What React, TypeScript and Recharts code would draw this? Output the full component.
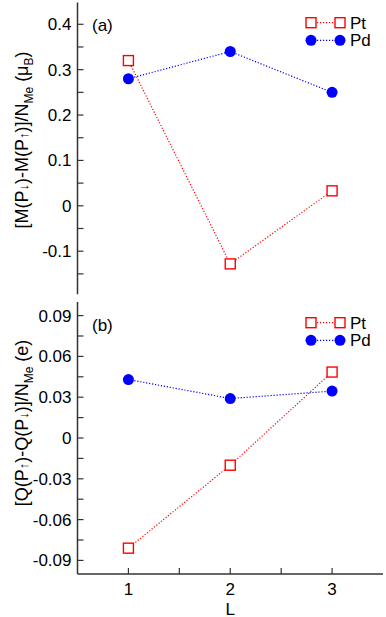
import { LineChart, Line, XAxis, YAxis } from 'recharts';

// layer index L
const layers = [1, 2, 3];

// panel (a): magnetic moment difference per Me atom (mu_B)
const ptMag = [0.32, -0.128, 0.033];
const pdMag = [0.28, 0.34, 0.25];

// panel (b): charge difference per Me atom (e)
const ptCharge = [-0.081, -0.02, 0.0485];
const pdCharge = [0.043, 0.029, 0.0345];

const xTicks = [1, 1.5, 2, 2.5, 3];
const xLabels = [1, 2, 3];
const magTicks = [-0.15, -0.1, -0.05, 0, 0.05, 0.1, 0.15, 0.2, 0.25, 0.3, 0.35, 0.4];
const magLabels = [-0.1, 0, 0.1, 0.2, 0.3, 0.4];
const chargeTicks = [-0.09, -0.075, -0.06, -0.045, -0.03, -0.015, 0, 0.015, 0.03, 0.045, 0.06, 0.075, 0.09];
const chargeLabels = [-0.09, -0.06, -0.03, 0, 0.03, 0.06, 0.09];

const series = [
  { key: 'pt', name: 'Pt', color: '#ff0000' },
  { key: 'pd', name: 'Pd', color: '#0000ff' },
];

const magData = layers.map((L, i) => ({ L, pt: ptMag[i], pd: pdMag[i] }));
const chargeData = layers.map((L, i) => ({ L, pt: ptCharge[i], pd: pdCharge[i] }));

const FONT = '"Liberation Sans", Arial, sans-serif';
const AXIS = '#333';
const TICK_LEN = 6;

const hasLabel = (v: number, labels: number[]) => labels.some((l) => Math.abs(l - v) < 1e-9);

const makeTick = (side: 'left' | 'right' | 'top' | 'bottom', labels: number[]) => (props: any) => {
  const { x, y, payload } = props;
  const v = payload.value;
  let line;
  let text = null;
  if (side === 'left') {
    line = <line x1={x} y1={y} x2={x + TICK_LEN} y2={y} />;
    if (hasLabel(v, labels))
      text = (
        <text x={x - 6} y={y} dy={6} textAnchor="end" fontSize={17} fontFamily={FONT} fill="#000" stroke="none">
          {String(v)}
        </text>
      );
  } else if (side === 'right') {
    line = <line x1={x} y1={y} x2={x - TICK_LEN} y2={y} />;
  } else if (side === 'top') {
    line = <line x1={x} y1={y} x2={x} y2={y + TICK_LEN} />;
  } else {
    line = <line x1={x} y1={y} x2={x} y2={y - TICK_LEN} />;
    if (labels.length && hasLabel(v, labels))
      text = (
        <text x={x} y={y + 20.5} textAnchor="middle" fontSize={17} fontFamily={FONT} fill="#000" stroke="none">
          {String(v)}
        </text>
      );
  }
  return (
    <g stroke={AXIS} strokeWidth={1.2}>
      {line}
      {text}
    </g>
  );
};

const Square = (props: any) => {
  const { cx, cy } = props;
  if (cx == null || cy == null) return null;
  return <rect x={cx - 5} y={cy - 5} width={10} height={10} fill="#fff" stroke="#ff0000" strokeWidth={1.4} />;
};

const Dot = (props: any) => {
  const { cx, cy } = props;
  if (cx == null || cy == null) return null;
  return <circle cx={cx} cy={cy} r={5.5} fill="#0000ff" />;
};

const magLabel = (
  <text transform="translate(28,140) rotate(-90)" textAnchor="middle" fontSize={18} fontFamily={FONT} fill="#000">
    [M(P<tspan fontSize={13}>↓</tspan>)-M(P<tspan fontSize={13}>↑</tspan>)]/N
    <tspan fontSize={12} dy={5}>Me</tspan>
    <tspan dy={-5}> (μ</tspan>
    <tspan fontSize={12} dy={5}>B</tspan>
    <tspan dy={-5}>)</tspan>
  </text>
);

const chargeLabel = (
  <text transform="translate(28,123) rotate(-90)" textAnchor="middle" fontSize={18} fontFamily={FONT} fill="#000">
    [Q(P<tspan fontSize={13}>↑</tspan>)-Q(P<tspan fontSize={13}>↓</tspan>)]/N
    <tspan fontSize={12} dy={5}>Me</tspan>
    <tspan dy={-5}> (e)</tspan>
  </text>
);

function Panel({
  data,
  domain,
  ticks,
  labels,
  yLabel,
  height,
  margin,
  xAxisHeight,
  showX,
}: {
  data: any[];
  domain: [number, number];
  ticks: number[];
  labels: number[];
  yLabel: any;
  height: number;
  margin: any;
  xAxisHeight: number;
  showX: boolean;
}) {
  return (
    <LineChart width={386} height={height} data={data} margin={margin}>
      <XAxis
        xAxisId="b"
        dataKey="L"
        type="number"
        domain={[0.5, 3.5]}
        allowDataOverflow
        ticks={xTicks}
        interval={0}
        height={xAxisHeight}
        tickSize={0}
        tickMargin={0}
        tickLine={false}
        axisLine={{ stroke: AXIS, strokeWidth: 1.5 }}
        tick={makeTick('bottom', showX ? xLabels : [])}
        label={
          showX
            ? {
                content: (p: any) => (
                  <text x={p.viewBox.x + p.viewBox.width / 2} y={p.viewBox.y + 40.5} textAnchor="middle" fontSize={17} fontFamily={FONT} fill="#000">
                    L
                  </text>
                ),
              }
            : undefined
        }
      />
      <XAxis
        xAxisId="t"
        dataKey="L"
        type="number"
        orientation="top"
        domain={[0.5, 3.5]}
        allowDataOverflow
        ticks={xTicks}
        interval={0}
        height={0}
        tickSize={0}
        tickMargin={0}
        tickLine={false}
        axisLine={{ stroke: AXIS, strokeWidth: 1.5 }}
        tick={makeTick('top', [])}
      />
      <YAxis
        yAxisId="l"
        type="number"
        domain={domain}
        allowDataOverflow
        ticks={ticks}
        interval={0}
        width={77.5}
        tickSize={0}
        tickMargin={0}
        tickLine={false}
        axisLine={{ stroke: AXIS, strokeWidth: 1.5 }}
        tick={makeTick('left', labels)}
        label={{ content: () => yLabel }}
      />
      <YAxis
        yAxisId="r"
        orientation="right"
        type="number"
        domain={domain}
        allowDataOverflow
        ticks={ticks}
        interval={0}
        width={0}
        tickSize={0}
        tickMargin={0}
        tickLine={false}
        axisLine={{ stroke: AXIS, strokeWidth: 1.5 }}
        tick={makeTick('right', [])}
      />
      <Line
        xAxisId="b"
        yAxisId="l"
        type="linear"
        dataKey="pd"
        name="Pd"
        stroke="#0000ff"
        strokeWidth={1.2}
        strokeDasharray="1.2 1.8"
        dot={Dot}
        isAnimationActive={false}
      />
      <Line
        xAxisId="b"
        yAxisId="l"
        type="linear"
        dataKey="pt"
        name="Pt"
        stroke="#ff0000"
        strokeWidth={1.2}
        strokeDasharray="1.2 1.8"
        dot={Square}
        isAnimationActive={false}
      />
    </LineChart>
  );
}

function LegendBox({ top, tag }: { top: number; tag: string }) {
  return (
    <svg width={386} height={60} style={{ position: 'absolute', left: 0, top, pointerEvents: 'none' }}>
      <text x={92} y={31} fontSize={17} fontFamily={FONT} fill="#000">
        {tag}
      </text>
      {series.map((s, i) => {
        const cy = 22.7 + i * 17.6;
        return (
          <g key={s.key}>
            <line x1={311} y1={cy} x2={340} y2={cy} stroke={s.color} strokeWidth={1.2} strokeDasharray="1.2 1.8" />
            {s.key === 'pt' ? (
              <>
                <Square cx={311} cy={cy} />
                <Square cx={340} cy={cy} />
              </>
            ) : (
              <>
                <Dot cx={311} cy={cy} />
                <Dot cx={340} cy={cy} />
              </>
            )}
            <text x={350} y={cy + 6} fontSize={17} fontFamily={FONT} fill="#000">
              {s.name}
            </text>
          </g>
        );
      })}
    </svg>
  );
}

export default function App() {
  return (
    <div style={{ position: 'absolute', left: 0, top: 0, width: 386, height: 617, background: '#fff' }}>
      <div style={{ position: 'absolute', left: 0, top: 0 }}>
        <Panel
          data={magData}
          domain={[-0.195, 0.448]}
          ticks={magTicks}
          labels={magLabels}
          yLabel={magLabel}
          height={300}
          margin={{ top: 2.5, right: 3, bottom: 5.7, left: 0 }}
          xAxisHeight={0}
          showX={false}
        />
      </div>
      <div style={{ position: 'absolute', left: 0, top: 300 }}>
        <Panel
          data={chargeData}
          domain={[-0.1, 0.1]}
          ticks={chargeTicks}
          labels={chargeLabels}
          yLabel={chargeLabel}
          height={317}
          margin={{ top: 2, right: 3, bottom: 0, left: 0 }}
          xAxisHeight={43}
          showX={true}
        />
      </div>
      <LegendBox top={0} tag="(a)" />
      <LegendBox top={300} tag="(b)" />
    </div>
  );
}
